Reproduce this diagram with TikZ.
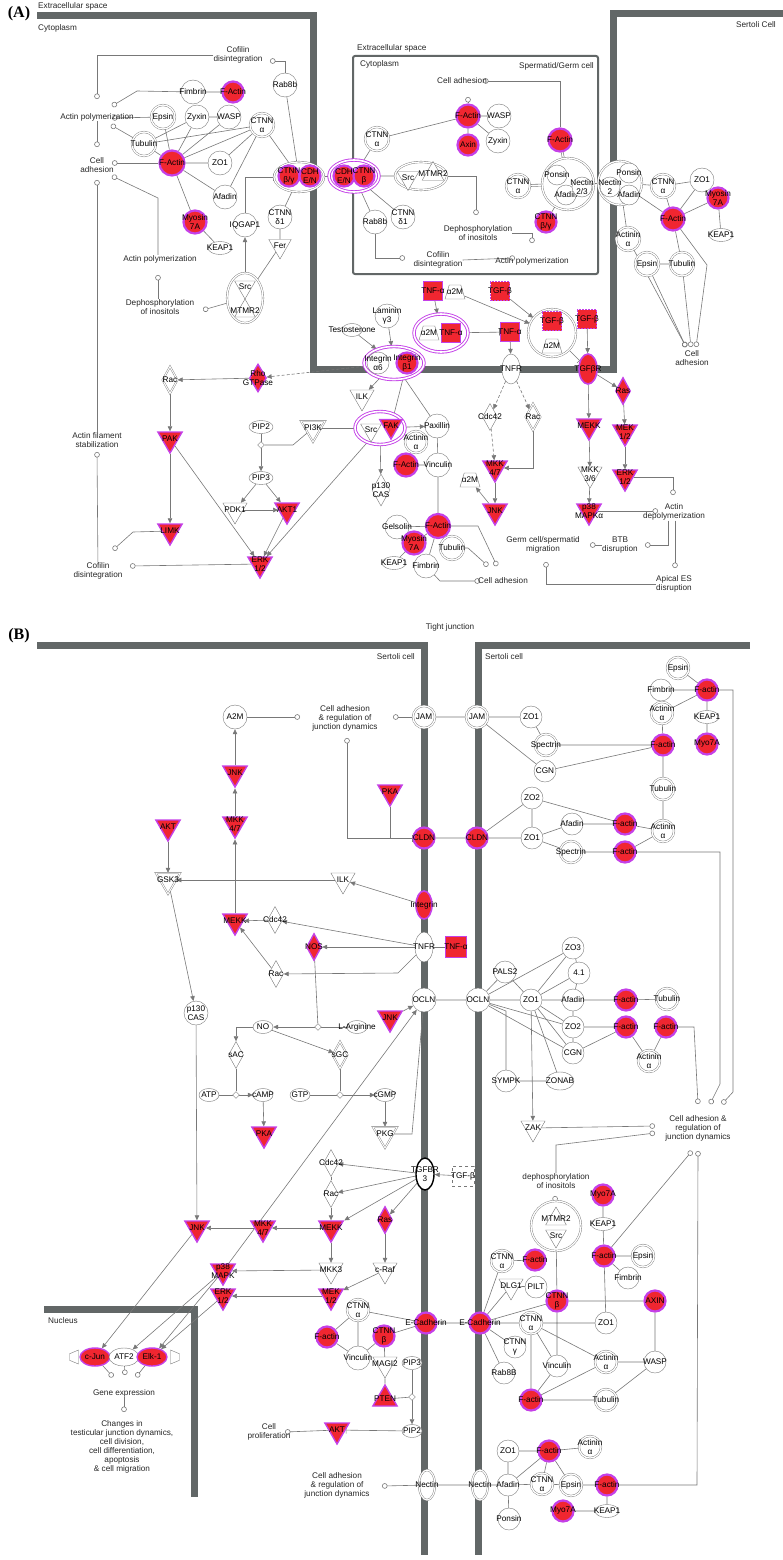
\documentclass[tikz,border=0pt]{standalone}
\usepackage{fontspec}
\setmainfont{Liberation Sans}
\newfontfamily\panelfont{Liberation Serif}
\usetikzlibrary{shapes.geometric,arrows.meta,backgrounds,positioning}
\definecolor{uphit}{RGB}{240,38,48}
\definecolor{uprim}{RGB}{196,64,232}
\definecolor{membr}{RGB}{98,103,103}
\definecolor{linegray}{RGB}{120,120,120}
\newcommand{\fs}{\fontsize{8.2}{9}\selectfont}

\begin{document}
\begin{tikzpicture}[x=1pt,y=-1pt,
        every node/.style={font=\fs,inner sep=0pt},
        lbl/.style={font=\fs,align=center,inner sep=0pt},
        lb/.style={label={[lbl]center:#1}},
        mol/.style={circle,draw=linegray,fill=white,minimum size=24},
        grp/.style={mol,double,double distance=1.3pt},
        hit/.style={circle,draw=uprim,line width=2.2pt,fill=uphit,minimum size=21},
        kin/.style={regular polygon,regular polygon sides=3,shape border rotate=180,draw=linegray,fill=white,minimum size=28},
        kinhit/.style={kin,draw=uprim,line width=1.4pt,fill=uphit},
        sw/.style={diamond,draw=linegray,fill=white,minimum width=15,minimum height=27},
        swhit/.style={sw,draw=uprim,line width=1.4pt,fill=uphit},
        sqhit/.style={rectangle,draw=uprim,line width=1.4pt,fill=uphit,minimum size=19},
        chem/.style={ellipse,draw=linegray,fill=white,minimum width=24,minimum height=13},
        rcp/.style={ellipse,draw=linegray,fill=white,minimum width=18,minimum height=30},
        rcphit/.style={rcp,draw=uprim,line width=1.6pt,fill=uphit},
        tf/.style={ellipse,draw=linegray,fill=white,minimum width=30,minimum height=18},
        tfhit/.style={tf,draw=uprim,line width=1.4pt,fill=uphit},
        trap/.style={trapezium,trapezium left angle=70,trapezium right angle=70,trapezium stretches=true,inner sep=1.5pt,draw=linegray,fill=white,minimum width=20,minimum height=14},
        cat/.style={diamond,draw=linegray,fill=white,minimum width=7,minimum height=7},
        cx/.style={ellipse,draw=linegray,double,double distance=1.3pt,fill=white},
        cxhit/.style={ellipse,draw=uprim,line width=0.9pt,double=white,double distance=1.6pt,fill=white},
        fn/.style={align=center,text=black!85},
        memb/.style={draw=membr,line width=7pt},
        rel/.style={draw=linegray,line width=0.6pt},
        act/.style={rel,-{Triangle[length=5pt,width=4.5pt]}},
        dact/.style={act,dash pattern=on 3pt off 2pt},
        inh/.style={rel,-{Bar[width=7pt]}},
        lead/.style={rel,-{Circle[open,length=5.5pt,width=5.5pt]}},
        ]
\useasboundingbox (0,0) rectangle (783,1560);

% ================= panel (A) =================
\node[font={\panelfont\bfseries\fontsize{16}{16}\selectfont}] (labA) at (19,14) {(A)};
\node[fn,anchor=west] (aExtra) at (38,6) {Extracellular space};
\node[fn,anchor=west] (aCyto) at (38,28) {Cytoplasm};
\node[fn,anchor=east] (aSertoli) at (776,25) {Sertoli Cell};
\node[fn,anchor=west] (aExtraIn) at (357,48) {Extracellular space};
\node[fn,anchor=west] (aCytoIn) at (360,64) {Cytoplasm};
\node[fn,anchor=east] (aGermcell) at (594,66) {Spermatid/Germ cell};

% functions
\node[fn] (aCofilA) at (238,55) {Cofilin\\disintegration};
\node[fn] (aActpolA) at (97,117) {Actin polymerization};
\node[fn] (aCelladhA) at (97,165) {Cell\\adhesion};
\node[fn] (aActpolB) at (160,259) {Actin polymerization};
\node[fn] (aDephosA) at (160,307) {Dephosphorylation\\of inositols};
\node[fn] (aActfil) at (97,440) {Actin filament\\stabilization};
\node[fn] (aCofilB) at (98,571) {Cofilin\\disintegration};
\node[fn] (aCelladhB) at (462,81) {Cell adhesion};
\node[fn] (aDephosB) at (478,233) {Dephosphorylation\\of inositols};
\node[fn] (aCofilC) at (438,260) {Cofilin\\disintegration};
\node[fn] (aActpolC) at (532,261) {Actin polymerization};
\node[fn] (aCelladhC) at (692,358) {Cell\\adhesion};
\node[fn] (aCelladhD) at (503,581) {Cell adhesion};
\node[fn] (aActdep) at (674,512) {Actin\\depolymerization};
\node[fn] (aGerm) at (543,545) {Germ cell/spermatid\\migration};
\node[fn] (aBTB) at (620,545) {BTB\\disruption};
\node[fn] (aApical) at (674,584) {Apical ES\\disruption};

% function ends
\coordinate (cA1) at (270,61);
\coordinate (cA2) at (97,99);
\coordinate (cA3) at (112,106);
\coordinate (cA4) at (112,118);
\coordinate (cA5) at (111,125);
\coordinate (cA6) at (97,147);
\coordinate (cA7) at (112,163);
\coordinate (cA8) at (112,176);
\coordinate (cA9) at (97,180);
\coordinate (cA10) at (158,275);
\coordinate (cA11) at (203,310);
\coordinate (cA12) at (97,452);
\coordinate (cA13) at (113,550);
\coordinate (cA14) at (130,566);
\coordinate (cA15) at (468,97);
\coordinate (cA16) at (483,81);
\coordinate (cA17) at (476,215);
\coordinate (cA18) at (532,243);
\coordinate (cA19) at (405,258);
\coordinate (cA20) at (515,258);
\coordinate (cA21) at (686,347);
\coordinate (cA22) at (691,347);
\coordinate (cA23) at (696,347);
\coordinate (cA24) at (488,566);
\coordinate (cA25) at (497,566);
\coordinate (cA26) at (658,511);
\coordinate (cA27) at (673,495);
\coordinate (cA28) at (645,545);
\coordinate (cA29) at (675,568);
\coordinate (cA30) at (590,545);
\coordinate (cA31) at (546,562);
\coordinate (cA32) at (480,581);

% left cell
\node[mol,lb=Rab8b] (aRab8bL) at (285,85) {};
\node[mol,lb=Fimbrin] (aFimbrin) at (193,92) {};
\node[hit,lb=F-Actin] (aFactA) at (233,92) {};
\node[grp,lb=Epsin] (aEpsinL) at (163,117) {};
\node[mol,lb=Zyxin] (aZyxinL) at (197,117) {};
\node[mol,lb=WASP] (aWaspL) at (229,117) {};
\node[grp,lb={CTNN\\α}] (aCtnnaL) at (262,125) {};
\node[grp,lb=Tubulin] (aTubulinL) at (144,144) {};
\node[hit,minimum size=25,lb=F-Actin] (aFactB) at (172,163) {};
\node[mol,lb=ZO1] (aZo1L) at (220,163) {};
\node[mol,lb=Afadin] (aAfadinL) at (225,197) {};
\node[hit,minimum size=23,lb={Myosin\\7A}] (aMyoL) at (195,222) {};
\node[chem,lb=KEAP1] (aKeapL) at (220,248) {};
\node[mol,lb=IQGAP1] (aIqgap) at (245,225) {};
\node[mol,lb={CTNN\\δ1}] (aCtnndL) at (280,217) {};
\node[kin,minimum size=26,lb=Fer] (aFer) at (280,246) {};
\node[cx,minimum width=50,minimum height=30] (aCxL) at (299,177) {};
\node[hit,lb={CTNN\\β/γ}] (aCtnnbgL) at (289,176) {};
\node[hit,lb={CDH\\E/N}] (aCdhL) at (310,176) {};
\node[cx,minimum width=36,minimum height=50] (aCxSrcL) at (245,298) {};
\node[kin,minimum size=24,lb=Src] (aSrcL) at (245,287) {};
\node[kin,shape border rotate=0,minimum size=24,lb=MTMR2] (aMtmrL) at (245,311) {};

% germ cell
\node[cxhit,minimum width=50,minimum height=32] (aCxM) at (354,176) {};
\node[hit,lb={CDH\\E/N}] (aCdhM) at (344,176) {};
\node[hit,lb={CTNN\\β}] (aCtnnbM) at (364,176) {};
\node[grp,lb={CTNN\\α}] (aCtnnaM) at (377,139) {};
\node[cx,minimum width=52,minimum height=28] (aCxSrcM) at (421,176) {};
\node[kin,minimum size=25,lb=Src] (aSrcM) at (408,178) {};
\node[kin,shape border rotate=0,minimum size=25,lb=MTMR2] (aMtmrM) at (433,174) {};
\node[mol,lb=Rab8b] (aRab8bM) at (375,222) {};
\node[mol,lb={CTNN\\δ1}] (aCtnndM) at (403,217) {};
\node[hit,minimum size=23,lb=F-Actin] (aFactM1) at (468,116) {};
\node[mol,lb=WASP] (aWaspM) at (499,116) {};
\node[hit,lb=Axin] (aAxinM) at (468,145) {};
\node[mol,lb=Zyxin] (aZyxinM) at (498,141) {};
\node[hit,minimum size=23,lb=F-Actin] (aFactM2) at (560,140) {};
\node[grp,lb={CTNN\\α}] (aCtnnaM2) at (518,186) {};
\node[hit,lb={CTNN\\β/γ}] (aCtnnbgM) at (546,222) {};
\node[mol,double,double distance=1.3pt,minimum size=52] (aCxNec) at (568,184) {};
\node[mol,minimum size=20,lb=Ponsin] (aPonsinM) at (557,175) {};
\node[mol,minimum size=20,lb=Afadin] (aAfadinM) at (566,195) {};
\node[mol,minimum size=20,lb={Nectin\\2/3}] (aNecM) at (582,187) {};

% Sertoli cell
\node[mol,double,double distance=1.3pt,minimum size=44] (aCxNecR) at (620,183) {};
\node[mol,minimum size=20,lb={Nectin\\2}] (aNecR) at (610,187) {};
\node[mol,minimum size=20,lb=Ponsin] (aPonsinR) at (629,173) {};
\node[mol,minimum size=20,lb=Afadin] (aAfadinR) at (629,195) {};
\node[grp,lb={CTNN\\α}] (aCtnnaR) at (663,186) {};
\node[mol,lb=ZO1] (aZo1R) at (702,180) {};
\node[hit,lb={Myosin\\7A}] (aMyoR) at (718,198) {};
\node[hit,minimum size=23,lb=F-Actin] (aFactR) at (673,219) {};
\node[chem,lb=KEAP1] (aKeapR) at (721,235) {};
\node[grp,lb={Actinin\\α}] (aActininR) at (628,239) {};
\node[grp,lb=Epsin] (aEpsinR) at (647,264) {};
\node[grp,lb=Tubulin] (aTubulinR) at (682,264) {};

% receptors and signalling
\node[sqhit,lb=TNF-α] (aTnfa1) at (433,291) {};
\node[trap,lb=α2M] (aA2m1) at (455,292) {};
\node[sqhit,dash pattern=on 2pt off 1pt,lb=TGF-β] (aTgfb1) at (500,291) {};
\node[mol,lb={Laminin\\γ3}] (aLaminin) at (387,316) {};
\node[chem,minimum width=20,lb=Testosterone] (aTesto) at (352,330) {};
\node[cxhit,minimum width=54,minimum height=38] (aCxTnf) at (441,333) {};
\node[trap,lb=α2M] (aA2m2) at (429,333) {};
\node[sqhit,lb=TNF-α] (aTnfa2) at (451,333) {};
\node[sqhit,lb=TNF-α] (aTnfa3) at (510,332) {};
\node[mol,double,double distance=1.3pt,minimum size=48] (aCxTgf) at (552,333) {};
\node[sqhit,dash pattern=on 2pt off 1pt,lb=TGF-β] (aTgfb2) at (552,321) {};
\node[trap,lb=α2M] (aA2m3) at (552,346) {};
\node[sqhit,dash pattern=on 2pt off 1pt,lb=TGF-β] (aTgfb3) at (587,319) {};
\node[cxhit,minimum width=60,minimum height=33] (aCxInt) at (394,363) {};
\node[mol,minimum size=22,lb={Integrin\\α6}] (aIntA6) at (378,363) {};
\node[hit,lb={Integrin\\β1}] (aIntB1) at (407,363) {};
\node[rcp,lb=TNFR] (aTnfr) at (511,369) {};
\node[rcphit,lb=TGFβR] (aTgfbr) at (588,369) {};
\node[swhit,lb=Ras] (aRas) at (623,391) {};
\node[swhit,minimum width=17,minimum height=28,lb={Rho\\GTPase}] (aRho) at (258,378) {};
\node[sw,double,double distance=1pt,lb=Rac] (aRac) at (170,380) {};
\node[kin,lb=ILK] (aIlk) at (362,397) {};
\node[cxhit,minimum width=50,minimum height=33] (aCxFak) at (380,428) {};
\node[kin,minimum size=24,lb=Src] (aSrcA) at (371,430) {};
\node[kinhit,minimum size=26,lb=FAK] (aFak) at (391,426) {};
\node[mol,lb=Paxillin] (aPaxillin) at (437,426) {};
\node[grp,minimum size=22,lb={Actinin\\α}] (aActininL) at (416,442) {};
\node[hit,minimum size=23,lb=F-Actin] (aFactL) at (406,465) {};
\node[mol,lb=Vinculin] (aVinculin) at (438,465) {};
\node[chem,lb=PIP2] (aPip2) at (261,427) {};
\node[kin,double,double distance=1pt,lb=PI3K] (aPi3k) at (313,428) {};
\node[kinhit,lb=PAK] (aPak) at (170,439) {};
\node[sw,minimum width=18,minimum height=32,lb={p130\\CAS}] (aP130) at (381,490) {};
\node[sw,lb=Cdc42] (aCdc42A) at (490,417) {};
\node[sw,double,double distance=1pt,lb=Rac] (aRacA) at (533,417) {};
\node[kinhit,lb={MKK\\4/7}] (aMkk47A) at (495,468) {};
\node[trap,lb=α2M] (aA2m4) at (470,480) {};
\node[kinhit,lb=JNK] (aJnkA) at (495,511) {};
\node[kinhit,lb=MEKK] (aMekkA) at (589,426) {};
\node[kinhit,lb={MEK\\1/2}] (aMek12) at (625,432) {};
\node[kin,lb={MKK\\3/6}] (aMkk36) at (590,474) {};
\node[kinhit,lb={ERK\\1/2}] (aErkR) at (625,477) {};
\node[kinhit,lb={p38\\MAPKα}] (aP38) at (589,511) {};
\node[cat] (aPipcat) at (261,445) {};
\node[chem,lb=PIP3] (aPip3) at (261,478) {};
\node[kin,lb=PDK1] (aPdk1) at (235,510) {};
\node[kinhit,lb=AKT1] (aAkt1) at (287,510) {};
\node[kinhit,lb=LIMK] (aLimk) at (170,531) {};
\node[kinhit,lb={ERK\\1/2}] (aErkL) at (260,564) {};
\node[mol,lb=Gelsolin] (aGelsolin) at (397,527) {};
\node[hit,minimum size=24,lb=F-Actin] (aFactL2) at (438,526) {};
\node[hit,minimum size=23,lb={Myosin\\7A}] (aMyoL2) at (414,543) {};
\node[grp,lb=Tubulin] (aTubulinL2) at (452,548) {};
\node[chem,lb=KEAP1] (aKeapL2) at (394,563) {};
\node[mol,lb=Fimbrin] (aFimbrinL2) at (426,566) {};

% ================= panel (B) =================
\node[font={\panelfont\bfseries\fontsize{16}{16}\selectfont}] (labB) at (19,636) {(B)};
\node[fn] (bTight) at (450,627) {Tight junction};
\node[fn,anchor=east] (bSertL) at (415,657) {Sertoli cell};
\node[fn,anchor=west] (bSertR) at (485,657) {Sertoli cell};
\node[fn,anchor=west] (bNucl) at (48,1321) {Nucleus};

% functions
\node[fn] (bJxA) at (345,718) {Cell adhesion\\\& regulation of\\junction dynamics};
\node[fn] (bJxB) at (698,1128) {Cell adhesion \&\\regulation of\\junction dynamics};
\node[fn] (bDephos) at (556,1181) {dephosphorylation\\of inositols};
\node[fn] (bGene) at (124,1393) {Gene expression};
\node[fn] (bChanges) at (122,1447) {Changes in\\testicular junction dynamics,\\cell division,\\cell differentiation,\\apoptosis\\\& cell migration};
\node[fn] (bProlif) at (269,1432) {Cell\\proliferation};
\node[fn] (bJxC) at (337,1485) {Cell adhesion\\\& regulation of\\junction dynamics};

% function ends
\coordinate (cB1) at (300,717);
\coordinate (cB2) at (393,717);
\coordinate (cB3) at (347,738);
\coordinate (cB4) at (698,1104);
\coordinate (cB5) at (710,1104);
\coordinate (cB6) at (722,1104);
\coordinate (cB7) at (655,1126);
\coordinate (cB8) at (655,1133);
\coordinate (cB9) at (692,1151);
\coordinate (cB10) at (698,1151);
\coordinate (cB11) at (555,1196);
\coordinate (cB12) at (113,1377);
\coordinate (cB13) at (125,1375);
\coordinate (cB14) at (136,1377);
\coordinate (cB15) at (124,1412);
\coordinate (cB16) at (285,1432);
\coordinate (cB17) at (382,1486);

% tight junction
\node[mol,lb=A2M] (bA2m) at (235,717) {};
\node[grp,minimum size=22,lb=JAM] (bJamL) at (424,717) {};
\node[grp,minimum size=22,lb=JAM] (bJamR) at (477,717) {};
\node[mol,minimum size=22,lb=ZO1] (bZo1a) at (531,717) {};
\node[grp,minimum size=22,lb=Spectrin] (bSpecA) at (546,745) {};
\node[mol,minimum size=22,lb=CGN] (bCgnA) at (545,771) {};
\node[grp,minimum size=22,lb=Epsin] (bEpsinA) at (678,668) {};
\node[hit,lb=F-actin] (bFactA) at (707,690) {};
\node[mol,minimum size=22,lb=Fimbrin] (bFimbrinA) at (661,690) {};
\node[grp,minimum size=22,lb={Actinin\\α}] (bActininA) at (662,713) {};
\node[chem,lb=KEAP1] (bKeapA) at (707,717) {};
\node[hit,lb=Myo7A] (bMyoA) at (707,744) {};
\node[hit,lb=F-actin] (bFactB) at (663,745) {};
\node[grp,minimum size=22,lb=Tubulin] (bTubulinA) at (663,789) {};
\node[mol,minimum size=22,lb=ZO2] (bZo2a) at (532,798) {};
\node[mol,minimum size=22,lb=ZO1] (bZo1b) at (532,838) {};
\node[mol,minimum size=22,lb=Afadin] (bAfadinA) at (572,824) {};
\node[hit,lb=F-actin] (bFactC) at (625,824) {};
\node[grp,minimum size=22,lb={Actinin\\α}] (bActininB) at (663,831) {};
\node[grp,minimum size=22,lb=Spectrin] (bSpecB) at (571,852) {};
\node[hit,lb=F-actin] (bFactD) at (625,852) {};
\node[hit,lb=CLDN] (bCldnL) at (424,838) {};
\node[hit,lb=CLDN] (bCldnR) at (477,838) {};
\node[kinhit,lb=JNK] (bJnkA) at (235,773) {};
\node[kinhit,lb={MKK\\4/7}] (bMkk47A) at (235,824) {};
\node[kinhit,lb=AKT] (bAktA) at (168,827) {};
\node[kinhit,lb=PKA] (bPkaA) at (390,792) {};
\node[kin,double,double distance=1pt,lb=GSK3] (bGsk3) at (168,880) {};
\node[kin,lb=ILK] (bIlk) at (343,880) {};
\node[kinhit,lb=MEKK] (bMekkA) at (235,921) {};
\node[sw,lb=Cdc42] (bCdc42A) at (275,920) {};
\node[rcphit,minimum width=16,minimum height=28,lb=Integrin] (bIntegrin) at (424,905) {};
\node[swhit,lb=NOS] (bNos) at (314,947) {};
\node[sw,lb=Rac] (bRacA) at (276,974) {};
\node[rcp,lb=TNFR] (bTnfr) at (424,947) {};
\node[sqhit,minimum size=21,lb=TNF-α] (bTnfa) at (456,947) {};

% occludin complex
\node[mol,lb={p130\\CAS}] (bP130) at (196,1013) {};
\node[mol,lb=OCLN] (bOcclL) at (424,1000) {};
\node[mol,lb=OCLN] (bOcclR) at (478,1000) {};
\node[mol,minimum size=22,lb=PALS2] (bPals2) at (505,972) {};
\node[mol,minimum size=22,lb=ZO1] (bZo1c) at (531,1000) {};
\node[mol,minimum size=22,lb=ZO3] (bZo3) at (573,948) {};
\node[mol,minimum size=22,lb=4.1] (bP41) at (579,973) {};
\node[mol,minimum size=22,lb=Afadin] (bAfadinB) at (573,1000) {};
\node[mol,minimum size=22,lb=ZO2] (bZo2b) at (573,1027) {};
\node[mol,minimum size=22,lb=CGN] (bCgnB) at (573,1053) {};
\node[hit,lb=F-actin] (bFactE) at (626,1000) {};
\node[grp,minimum size=22,lb=Tubulin] (bTubulinB) at (667,999) {};
\node[hit,lb=F-actin] (bFactF) at (626,1027) {};
\node[hit,lb=F-actin] (bFactG) at (666,1027) {};
\node[grp,minimum size=22,lb={Actinin\\α}] (bActininC) at (649,1061) {};
\node[mol,minimum size=22,lb=SYMPK] (bSympk) at (506,1081) {};
\node[chem,minimum width=28,minimum height=18,lb=ZONAB] (bZonab) at (560,1081) {};
\node[kin,lb=ZAK] (bZak) at (533,1128) {};

% NO and cAMP
\node[cat] (bNocat) at (318,1027) {};
\node[chem,minimum width=20,lb=NO] (bNo) at (263,1027) {};
\node[chem,minimum width=20,lb=L-Arginine] (bLarg) at (357,1027) {};
\node[kinhit,lb=JNK] (bJnkB) at (390,1018) {};
\node[sw,lb=sAC] (bSac) at (236,1055) {};
\node[sw,double,double distance=1pt,lb=sGC] (bSgc) at (340,1055) {};
\node[cat] (bAtpcat) at (236,1095) {};
\node[cat] (bGtpcat) at (340,1095) {};
\node[chem,minimum width=20,lb=ATP] (bAtp) at (209,1095) {};
\node[chem,minimum width=20,lb=cAMP] (bCamp) at (263,1095) {};
\node[chem,minimum width=20,lb=GTP] (bGtp) at (300,1095) {};
\node[chem,minimum width=20,lb=cGMP] (bCgmp) at (385,1095) {};
\node[kinhit,lb=PKA] (bPkaB) at (264,1134) {};
\node[kin,double,double distance=1pt,lb=PKG] (bPkg) at (385,1134) {};

% TGF-beta signalling
\node[sw,lb=Cdc42] (bCdc42B) at (331,1163) {};
\node[ellipse,draw=black,line width=1.4pt,fill=white,minimum width=18,minimum height=32,lb={TGFBR\\3}] (bTgfbr3) at (425,1174) {};
\node[rectangle,draw=linegray,dashed,fill=white,minimum width=22,minimum height=20,lb=TGF-β] (bTgfb) at (463,1176) {};
\node[sw,lb=Rac] (bRacB) at (331,1194) {};
\node[kinhit,lb=JNK] (bJnkC) at (197,1228) {};
\node[kinhit,lb={MKK\\4/7}] (bMkk47B) at (263,1228) {};
\node[kinhit,lb=MEKK] (bMekkB) at (331,1228) {};
\node[swhit,lb=Ras] (bRasB) at (385,1220) {};
\node[kinhit,lb={p38\\MAPK}] (bP38) at (223,1271) {};
\node[kin,lb=MKK3] (bMkk3) at (331,1270) {};
\node[kin,lb=c-Raf] (bCraf) at (385,1270) {};
\node[kinhit,lb={ERK\\1/2}] (bErk) at (223,1296) {};
\node[kinhit,lb={MEK\\1/2}] (bMek12) at (331,1296) {};

% adherens junction
\node[grp,minimum size=22,lb={CTNN\\α}] (bCtnnaA) at (358,1310) {};
\node[hit,lb=F-actin] (bFactH) at (327,1337) {};
\node[hit,lb={CTNN\\β}] (bCtnnbA) at (384,1336) {};
\node[mol,lb=Vinculin] (bVinculinA) at (358,1358) {};
\node[kin,lb=MAGI2] (bMagi2) at (385,1364) {};
\node[kinhit,shape border rotate=0,lb=PTEN] (bPten) at (385,1399) {};
\node[cat] (bPipcat) at (412,1397) {};
\node[chem,minimum width=20,lb=PIP3] (bPip3) at (412,1363) {};
\node[chem,minimum width=20,lb=PIP2] (bPip2) at (412,1431) {};
\node[kinhit,lb=AKT] (bAktB) at (337,1430) {};
\node[hit,lb=E-Cadherin] (bEcadL) at (426,1323) {};
\node[hit,lb=E-Cadherin] (bEcadR) at (480,1323) {};
\node[grp,minimum size=22,lb={CTNN\\α}] (bCtnnaB) at (502,1261) {};
\node[hit,lb=F-actin] (bFactI) at (535,1260) {};
\node[kin,lb=DLG1] (bDlg1) at (511,1286) {};
\node[mol,minimum size=22,lb=PILT] (bPilt) at (536,1287) {};
\node[hit,lb={CTNN\\β}] (bCtnnbB) at (557,1301) {};
\node[hit,lb=AXIN] (bAxin) at (655,1301) {};
\node[grp,minimum size=22,lb={CTNN\\α}] (bCtnnaC) at (531,1323) {};
\node[mol,minimum size=22,lb=ZO1] (bZo1d) at (606,1323) {};
\node[mol,minimum size=22,lb={CTNN\\γ}] (bCtnng) at (515,1347) {};
\node[mol,minimum size=22,lb=Rab8B] (bRab8B) at (504,1373) {};
\node[mol,minimum size=22,lb=Vinculin] (bVinculinB) at (557,1366) {};
\node[grp,minimum size=22,lb={Actinin\\α}] (bActininD) at (606,1362) {};
\node[mol,minimum size=22,lb=WASP] (bWasp) at (655,1362) {};
\node[hit,lb=F-actin] (bFactJ) at (531,1400) {};
\node[grp,minimum size=22,lb=Tubulin] (bTubulinC) at (606,1400) {};
\node[mol,double,double distance=1.3pt,minimum size=50] (bMtmrSrc) at (556,1226) {};
\node[kin,shape border rotate=0,minimum size=24,lb=MTMR2] (bMtmr) at (556,1219) {};
\node[kin,minimum size=24,lb=Src] (bSrcB) at (556,1236) {};
\node[hit,lb=Myo7A] (bMyoC) at (603,1195) {};
\node[chem,lb=KEAP1] (bKeapC) at (603,1224) {};
\node[hit,lb=F-actin] (bFactM) at (604,1256) {};
\node[grp,minimum size=22,lb=Epsin] (bEpsinC) at (643,1256) {};
\node[mol,minimum size=22,lb=Fimbrin] (bFimbrinB) at (628,1278) {};

% nectin complex
\node[rcp,double,double distance=1.2pt,minimum width=16,lb=Nectin] (bNecL) at (427,1485) {};
\node[rcp,double,double distance=1.2pt,minimum width=16,lb=Nectin] (bNecR) at (480,1485) {};
\node[mol,minimum size=22,lb=Afadin] (bAfadinC) at (508,1485) {};
\node[mol,minimum size=22,lb=ZO1] (bZo1e) at (508,1451) {};
\node[hit,lb=F-actin] (bFactK) at (549,1451) {};
\node[grp,minimum size=22,lb={Actinin\\α}] (bActininE) at (590,1447) {};
\node[grp,minimum size=22,lb={CTNN\\α}] (bCtnnaD) at (542,1484) {};
\node[grp,minimum size=22,lb=Epsin] (bEpsinB) at (571,1485) {};
\node[hit,lb=F-actin] (bFactL) at (607,1485) {};
\node[hit,lb=Myo7A] (bMyoB) at (563,1511) {};
\node[chem,lb=KEAP1] (bKeapB) at (607,1511) {};
\node[mol,minimum size=22,lb=Ponsin] (bPonsin) at (509,1519) {};

% nucleus
\node[trapezium,trapezium stretches=true,inner sep=1.5pt,draw=linegray,fill=white,shape border rotate=90,minimum width=14,minimum height=9] (bTfL) at (74,1357) {};
\node[trapezium,trapezium stretches=true,inner sep=1.5pt,draw=linegray,fill=white,shape border rotate=270,minimum width=14,minimum height=9] (bTfR) at (175,1357) {};
\node[tfhit,lb=c-Jun] (bCjun) at (95,1357) {};
\node[tf,lb=ATF2] (bAtf2) at (124,1357) {};
\node[tfhit,lb=Elk-1] (bElk1) at (152,1357) {};

\begin{scope}[on background layer]
% membranes
\draw[memb] (37,16) -- (313,16) -- (313,369) -- (613,369) -- (613,14) -- (783,14);
\draw[draw=membr,line width=2pt,rounded corners=2pt] (353,56) rectangle (598,274);
\draw[memb] (37,645) -- (424,645) -- (424,1555);
\draw[memb] (750,645) -- (478,645) -- (478,1555);
\draw[memb] (44,1309) -- (194,1309) -- (194,1497);

% (A) left cell
\draw[lead] (aRab8bL) |- (cA1);
\draw[lead] (aCofilA.west) -| (cA2);
\draw[lead] (aFimbrin) -- (137,91) -- (cA3);
\draw[lead] (aEpsinL) -- (cA4);
\draw[lead] (aTubulinL) -- (cA5);
\draw[lead] (aActpolA) -- (cA6);
\draw[lead] (aFactB) -- (cA7);
\draw[lead] ([xshift=-2pt]aActpolB.north) -- (158,198) -- (cA8);
\draw[lead] (aActfil) -- (cA9);
\draw[lead] ([xshift=-2pt]aDephosA.north) -- (cA10);
\draw[lead] (aCxSrcL) -- (cA11);
\draw[lead] (aCofilB) -- (cA12);
\draw[lead] (aLimk) -- (133,532) -- (cA13);
\draw[lead] (aErkL) -- (cA14);
\draw[rel] (aZyxinL) -- (aTubulinL) (aZyxinL) -- (aFactB) (aWaspL) -- (aFactB) (aZyxinL) -- (aWaspL)
  (aCtnnaL) -- (aFactB) (aCtnnaL) -- (aTubulinL) (aFactB) -- (aZo1L) (aFactB) -- (aAfadinL)
  (aFactB) -- (aMyoL) (aFactB) -- (aTubulinL) (aFactB) -- (aEpsinL) (aCtnnaL) -- (aZo1L)
  (aCtnnaL) -- (aAfadinL) (aCtnnaL) -- (aCxL) (aMyoL) -- (aKeapL) (aRab8bL) -- (aCxL)
  (aCxL) -- (aCtnndL) (aCtnndL) -- (aFer) (aFer) -- (aCxSrcL) (aFimbrin) -- (aFactA);
\draw[act] (aCxSrcL) -- (aIqgap);
\draw[inh] (aIqgap) |- (aCxL);

% (A) germ cell
\draw[rel] (aCxL) -- (aCxM);
\draw[rel] (aCxM) -- (aCtnnaM) (aCxM) -- (aCxSrcM) (aCxM) -- (aCtnndM) (aCxM) -- (aRab8bM)
  (aCtnnaM) -- (aFactM1) (aFactM1) -- (aWaspM) (aFactM1) -- (aAxinM) (aFactM1) -- (aZyxinM)
  (aCtnnbgM) -- (aCxNec) (aCxNec) -- (aCxNecR);
\draw[rel,double,double distance=1.4pt] (aFactM2) -- (aCxNec);
\draw[rel,double,double distance=1.4pt] (aCtnnaM2) -- (aCxNec);
\draw[lead] (aFactM1) -- (cA15);
\draw[lead] (aFactM2) |- (cA16);
\draw[lead] (aCxSrcM) -| (cA17);
\draw[lead] (aDephosB.east) -| (cA18);
\draw[lead] (aRab8bM) |- (cA19);
\draw[lead] (aCofilC.east) -- (cA20);

% (A) Sertoli cell
\draw[rel] (aCxNecR) -- (aCtnnaR) (aCtnnaR) -- (aZo1R) (aCtnnaR) -- (aFactR) (aZo1R) -- (aFactR)
  (aMyoR) -- (aFactR) (aMyoR) -- (aKeapR) (aCxNecR) -- (aFactR) (aCxNecR) -- (aActininR)
  (aFactR) -- (aTubulinR) (aEpsinR) -- (aTubulinR);
\draw[lead] (aActininR) -- (cA21);
\draw[lead] (aEpsinR) -- (cA21);
\draw[lead] (aTubulinR) -- (cA22);
\draw[lead] (aFactR) -- (707,265) -- (cA23);

% (A) signalling
\draw[act] (aTnfa1) -- (aCxTnf);
\draw[act] (aA2m1) -- (aCxTgf);
\draw[act] (aTgfb1) -- (aCxTgf);
\draw[inh] (aCxTnf) -- (aTnfa3);
\draw[act] (aTnfa3) -- (aTnfr);
\draw[inh] (aCxTgf) -- (aTgfbr);
\draw[act] (aTgfb3) -- (aTgfbr);
\draw[act] (aLaminin) -- (aCxInt);
\draw[act] (aTesto) -- (aCxInt);
\draw[dact] (aCxInt) -- (aRho);
\draw[act] (aRho) -- (aRac);
\draw[act] (aRac) -- (aPak);
\draw[act] (aPak) -- (aLimk);
\draw[act] (aPak) -- (aErkL);
\draw[act] (aCxInt) -- (aIlk);
\draw[act] (aIntB1) -- (aFak);
\draw[rel] (aCxInt) -- (aPaxillin);
\draw[act] (aCxFak) -- (aPaxillin);
\draw[act] (aCxFak) -- (aP130);
\draw[rel] (aCxFak) -- (aPi3k);
\draw[act] (aCxFak) -- (aErkL);
\draw[rel] (aPi3k) -- (293,445) -- (aPipcat);
\draw[act] (aPip2) -- (aPip3);
\draw[act] (aPip3) -- (aPdk1);
\draw[act] (aPip3) -- (aAkt1);
\draw[act] (aPdk1) -- (aAkt1);
\draw[act] (aAkt1) -- (aErkL);
\draw[rel] (aPaxillin) -- (aVinculin) (aVinculin) -- (aFactL) (aVinculin) -- (aFactL2)
  (aFactL2) -- (aGelsolin) (aFactL2) -- (aMyoL2) (aFactL2) -- (aTubulinL2) (aFactL2) -- (aFimbrinL2)
  (aMyoL2) -- (aKeapL2);
\draw[lead] (aFactL2) -- (478,526) -- (cA25);
\draw[lead] (aTubulinL2) -- (468,548) -- (cA24);
\draw[lead] (aFimbrinL2) -- (440,581) -- (cA32);
\draw[dact] (aTnfr) -- (aCdc42A);
\draw[dact] (aTnfr) -- (aRacA);
\draw[dact] (aCdc42A) -- (aMkk47A);
\draw[act] (aRacA) |- (aMkk47A);
\draw[act] (aMkk47A) -- (aJnkA);
\draw[act] (aJnkA) -- (aA2m4);
\draw[act] (aTgfbr) -- (aMekkA);
\draw[act] (aTgfbr) -- (aRas);
\draw[act] (aMekkA) -- (aMkk36);
\draw[act] (aMkk36) -- (aP38);
\draw[act] (aRas) -- (aMek12);
\draw[act] (aMek12) -- (aErkR);
\draw[lead] (aP38) -- (cA26);
\draw[lead] (aErkR) -| (cA27);
\draw[lead] ([xshift=-6pt]aActdep.south) |- (cA28);
\draw[lead] ([xshift=1pt]aActdep.south) -- (cA29);
\draw[lead] (aBTB) -- (cA30);
\draw[lead] (aApical.west) -| (cA31);

% (B) tight junction
\draw[lead] (bA2m) -- (cB1);
\draw[lead] (bJamL) -- (cB2);
\draw[lead] (bCldnL) -| (cB3);
\draw[act] (bJnkA) -- (bA2m);
\draw[act] (bMkk47A) -- (bJnkA);
\draw[act] (bMekkA) -- (bMkk47A);
\draw[act] (bAktA) -- (bGsk3);
\draw[act] (bIlk) -- (bGsk3);
\draw[act] (bIntegrin) -- (bIlk);
\draw[inh] (bPkaA) |- (bCldnL);
\draw[rel] (bJamL) -- (bJamR) (bJamR) -- (bZo1a) (bJamR) -- (bCgnA) (bZo1a) -- (bSpecA)
  (bSpecA) -- (bFactB) (bCgnA) -- (bFactB) (bFactB) -- (bActininA) (bActininA) -- (bFactA)
  (bFimbrinA) -- (bFactA) (bEpsinA) -- (bFactA) (bFactA) -- (bKeapA) (bKeapA) -- (bMyoA)
  (bFactB) -- (bTubulinA) (bTubulinA) -- (bActininB);
\draw[rel] (bCldnL) -- (bCldnR) (bCldnR) -- (bZo2a) (bCldnR) -- (bZo1b) (bZo2a) -- (bZo1b)
  (bZo2a) -- (bFactC) (bZo1b) -- (bAfadinA) (bAfadinA) -- (bFactC) (bZo1b) -- (bSpecB)
  (bSpecB) -- (bFactD) (bFactC) -- (bActininB) (bFactD) -- (bActininB);
\draw[lead] (bFactA) -- (733,690) -- (733,1092) -- (cB6);
\draw[lead] (bFactD) -- (720,852) -- (720,1084) -- (cB5);
\draw[lead] (bFactG) -- (694,1027) -- (cB4);
\draw[rel] (bTnfr) -- (bTnfa);
\draw[act] (bTnfr) -- (bNos);
\draw[act] (bTnfr) -- (bCdc42A);
\draw[act] (bTnfr) -- (398,973) -- (bRacA);
\draw[act] (bRacA) -- (bMekkA);
\draw[act] (bCdc42A) -- (bMekkA);
\draw[act] (bGsk3) -- (bP130);
\draw[act] (bP130) -- (bJnkC);

% (B) occludin and NO
\draw[rel] (bNos) -- (bNocat);
\draw[act] (bLarg) -- (bNo);
\draw[act] (bNo) -| (bSac);
\draw[act] (bNo) -- (bSgc);
\draw[rel] (bSac) -- (bAtpcat);
\draw[act] (bAtp) -- (bCamp);
\draw[rel] (bSgc) -- (bGtpcat);
\draw[act] (bGtp) -- (bCgmp);
\draw[act] (bCamp) -- (bPkaB);
\draw[act] (bCgmp) -- (bPkg);
\draw[rel] (bPkg) -- (412,1134) -- (bOcclL);
\draw[act] (bJnkB) -- (bOcclL);
\draw[act] (bP38) -- (bOcclL);
\draw[rel] (bOcclL) -- (bOcclR) (bOcclR) -- (bPals2) (bOcclR) -- (bZo3) (bOcclR) -- (bZo1c)
  (bOcclR) -- (bZo2b) (bOcclR) -- (bCgnB) (bOcclR) -- (506,1011) -- (bSympk);
\draw[rel] (bPals2) -- (bZo1c) (bZo1c) -- (bZo3) (bZo1c) -- (bP41) (bZo1c) -- (bAfadinB)
  (bZo1c) -- (bZo2b) (bZo1c) -- (bCgnB) (bZo1c) -- (bZonab) (bZo3) -- (bP41) (bP41) -- (bAfadinB)
  (bAfadinB) -- (bZo2b) (bZo2b) -- (bCgnB) (bAfadinB) -- (bFactE) (bFactE) -- (bTubulinB)
  (bZo2b) -- (bFactF) (bCgnB) -- (bFactF) (bFactF) -- (bActininC) (bFactG) -- (bActininC)
  (bSympk) -- (bZonab);
\draw[act] (bZo1c) -- (bZak);
\draw[lead] (bZak) -- (cB7);
\draw[lead] (bDephos.north) -- (556,1145) -- (cB8);
\draw[lead] (bMtmrSrc) -- (cB11);

% (B) TGF-beta
\draw[act] (bTgfb) -- (bTgfbr3);
\draw[act] (bTgfbr3) -- (bCdc42B);
\draw[act] (bTgfbr3) -- (bRacB);
\draw[act] (bTgfbr3) -- (bMekkB);
\draw[act] (bTgfbr3) -- (bRasB);
\draw[rel] (bCdc42B) -- (bRacB);
\draw[act] (bRacB) -- (bMekkB);
\draw[act] (bMekkB) -- (bMkk47B);
\draw[act] (bMkk47B) -- (bJnkC);
\draw[act] (bMekkB) -- (bMkk3);
\draw[act] (bMkk3) -- (bP38);
\draw[act] (bRasB) -- (bCraf);
\draw[act] (bCraf) -- (bMek12);
\draw[act] (bMek12) -- (bErk);
\draw[act] (bJnkC) -- (bCjun);
\draw[act] (bP38) -- (bAtf2);
\draw[act] (bP38) -- (bElk1);
\draw[act] (bErk) -- (bElk1);
\draw[lead] (bCjun) -- (cB12);
\draw[lead] (bAtf2) -- (cB13);
\draw[lead] (bElk1) -- (cB14);
\draw[lead] (bGene) -- (cB15);

% (B) adherens junction
\draw[rel] (bCtnnaA) -- (bFactH) (bCtnnaA) -- (bVinculinA) (bFactH) -- (bVinculinA)
  (bCtnnbA) -- (bVinculinA) (bCtnnaA) -- (bEcadL) (bCtnnbA) -- (bEcadL) (bCtnnbA) -- (bMagi2)
  (bEcadL) -- (bEcadR) (bMagi2) -- (bPten);
\draw[rel] (bPten) -- (bPipcat);
\draw[act] (bPip3) -- (bPip2);
\draw[inh] (bPip2) -- (bAktB);
\draw[lead] (bAktB) -- (cB16);
\draw[rel] (bEcadR) -- (bCtnnaB) (bEcadR) -- (bDlg1) (bEcadR) -- (bCtnnbB) (bEcadR) -- (bCtnnaC)
  (bEcadR) -- (bCtnng) (bEcadR) -- (bRab8B) (bCtnnaB) -- (bFactI) (bDlg1) -- (bPilt)
  (bCtnnbB) -- (bAxin) (bCtnnbB) -- (bVinculinB) (bCtnnbB) -- (bMtmrSrc) (bCtnnaC) -- (bZo1d)
  (bCtnnaC) -- (bVinculinB) (bCtnnaC) -- (bActininD) (bCtnnaC) -- (bFactJ) (bVinculinB) -- (bFactJ)
  (bActininD) -- (bFactJ) (bActininD) -- (bWasp) (bWasp) -- (bAxin) (bWasp) -- (bTubulinC)
  (bFactJ) -- (bTubulinC);
\draw[rel] (bMyoC) -- (bKeapC) (bKeapC) -- (bFactM) (bFactM) -- (bEpsinC) (bFactM) -- (bFimbrinB)
  (bFactM) -- (bZo1d);
\draw[lead] (bFactM) -- (cB9);

% (B) nectin
\draw[lead] (bNecL) -- (cB17);
\draw[rel] (bNecL) -- (bNecR) (bNecR) -- (bAfadinC) (bAfadinC) -- (bCtnnaD) (bCtnnaD) -- (bEpsinB)
  (bEpsinB) -- (bFactL) (bAfadinC) -- (bZo1e) (bAfadinC) -- (bPonsin) (bZo1e) -- (bFactK)
  (bAfadinC) -- (bFactK) (bFactK) -- (bActininE) (bFactK) -- (bCtnnaD) (bFactK) -- (bEpsinB)
  (bFactL) -- (bKeapB) (bKeapB) -- (bMyoB);
\draw[lead] (bFactL) -- (697,1485) -- (cB10);
\end{scope}
\end{tikzpicture}
\end{document}
